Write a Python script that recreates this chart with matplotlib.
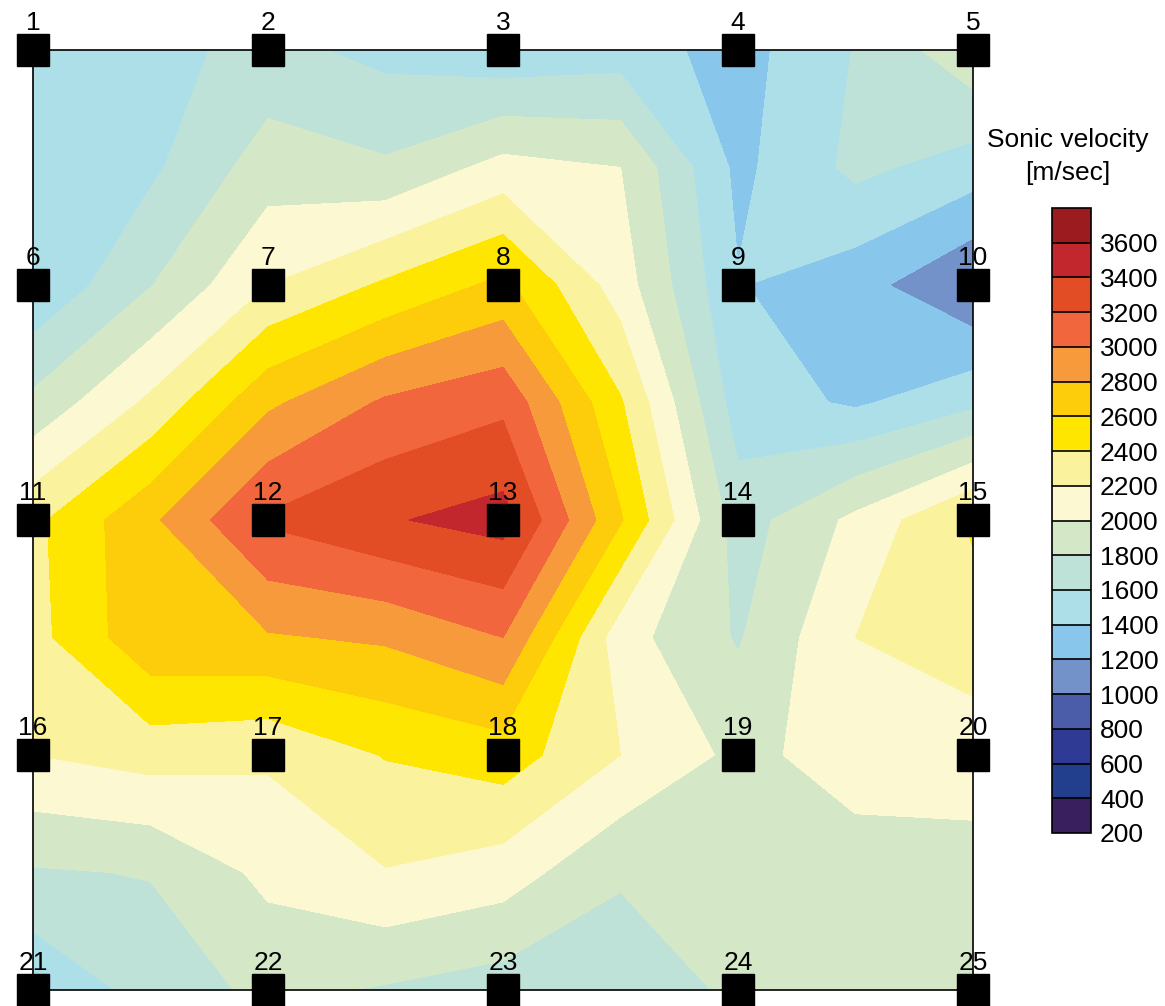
import numpy as np
import matplotlib.pyplot as plt
from matplotlib.colors import ListedColormap, BoundaryNorm

plt.rcParams['font.family'] = ['Liberation Sans', 'DejaVu Sans']

# sonic velocity [m/sec] read on a 9x9 grid (every half sensor spacing), top row first
grid_pos = np.linspace(0, 4, 9)
velocity = np.array([
    [1480, 1540, 1660, 1540, 1450, 1500, 1320, 1610, 1950],
    [1470, 1560, 1900, 1830, 2070, 2000, 1350, 1650, 1500],
    [1420, 1790, 2200, 2430, 2650, 2100, 1410, 1280, 1000],
    [1850, 2240, 2760, 3030, 3150, 2420, 1500, 1370, 1550],
    [2350, 2760, 3230, 3380, 3480, 2620, 1700, 2050, 2430],
    [2330, 2750, 2780, 2830, 3000, 2080, 1780, 2200, 2300],
    [2200, 2280, 2230, 2410, 2500, 2200, 1950, 2080, 2100],
    [1780, 1810, 2050, 2190, 2100, 1820, 1900, 1920, 1920],
    [1420, 1680, 1850, 1780, 1700, 1700, 1830, 1870, 1880],
])

levels = np.arange(200, 3801, 200)
band_colors = ['#3a1f5f', '#223f8e', '#2f3a94', '#4b5da8', '#7292c9', '#88c6ec',
               '#acdfe8', '#bee2d8', '#d4e7c6', '#fcf8d2', '#faf29c', '#ffe600',
               '#fdcc0a', '#f69a3b', '#f1663c', '#e34d26', '#c1272d', '#9b1b1f']
tick_values = np.arange(200, 3601, 200)

sensor_ids = np.arange(1, 26)
sensor_col = (sensor_ids - 1) % 5
sensor_row = (sensor_ids - 1) // 5

cmap = ListedColormap(band_colors)
norm = BoundaryNorm(levels, cmap.N)

fig = plt.figure(figsize=(11.65, 10.06), dpi=100)
ax = fig.add_axes([33 / 1165, 16 / 1006, 940 / 1165, 940 / 1006])
cs = ax.contourf(grid_pos, grid_pos, velocity, levels=levels, cmap=cmap, norm=norm)
ax.set_xlim(0, 4)
ax.set_ylim(4, 0)
ax.set_xticks([])
ax.set_yticks([])
for sp in ax.spines.values():
    sp.set_linewidth(1.2)

ax.plot(sensor_col, sensor_row, 's', ms=23, color='black', clip_on=False, zorder=5)
for n, c, r in zip(sensor_ids, sensor_col, sensor_row):
    ax.annotate(str(n), (c, r), xytext=(0, 14.5), textcoords='offset points',
                ha='center', va='baseline', fontsize=19, annotation_clip=False)

# colour scale
cax = fig.add_axes([1052 / 1165, (1006 - 833) / 1006, 39 / 1165, 625 / 1006])
cb = fig.colorbar(cs, cax=cax, drawedges=True)
cb.set_ticks(tick_values)
cb.ax.minorticks_off()
cb.ax.tick_params(length=0, pad=6.5, labelsize=19)
cb.outline.set_linewidth(1.2)
cb.dividers.set_linewidth(1.2)
cb.dividers.set_color('black')

fig.text(1068 / 1165, 1 - 147 / 1006, 'Sonic velocity', ha='center', va='baseline', fontsize=19)
fig.text(1068 / 1165, 1 - 180 / 1006, '[m/sec]', ha='center', va='baseline', fontsize=19)

fig.savefig('out.png', dpi=100)
